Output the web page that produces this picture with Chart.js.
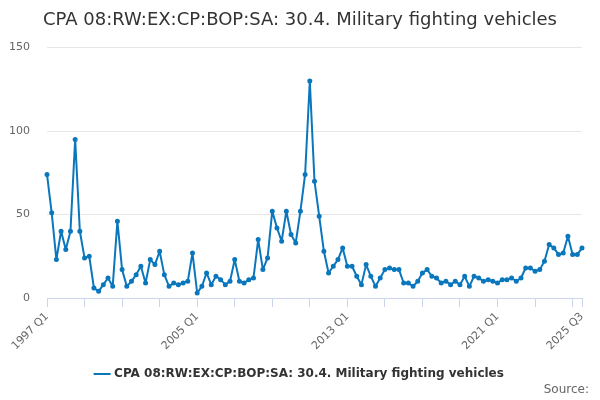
<!DOCTYPE html>
<html>
<head>
<meta charset="utf-8">
<script src="https://cdn.jsdelivr.net/npm/chart.js@4"></script>
<style>
  html, body { margin: 0; padding: 0; background: #fff; }
  #wrap { width: 600px; height: 400px; }
</style>
</head>
<body>
<div id="wrap"><canvas id="mfvChart" width="600" height="400"></canvas></div>
<script>
// quarters 1997 Q1 .. 2025 Q3
const years = [];
for (let y = 1997; y <= 2025; y++) years.push(y);
const quarters = [];
years.forEach(function (y) {
    for (let q = 1; q <= 4; q++) {
        if (y === 2025 && q > 3) break;
        quarters.push(y + ' Q' + q);
    }
});

// values
const values = [
    74, 51, 23, 40, 29, 40, 95, 40, 24, 25, 6, 4, 8, 12, 7, 46,
    17, 7, 10, 14, 19, 9, 23, 20, 28, 14, 7, 9, 8, 9, 10, 27,
    3, 7, 15, 8, 13, 11, 8, 10, 23, 10, 9, 11, 12, 35, 17, 24,
    52, 42, 34, 52, 38, 33, 52, 74, 130, 70, 49, 28, 15, 19, 23, 30,
    19, 19, 13, 8, 20, 13, 7, 12, 17, 18, 17, 17, 9, 9, 7, 10,
    15, 17, 13, 12, 9, 10, 8, 10, 8, 13, 7, 13, 12, 10, 11, 10,
    9, 11, 11, 12, 10, 12, 18, 18, 16, 17, 22, 32, 30, 26, 27, 37,
    26, 26, 30
];

const shownLabels = ['1997 Q1', '2005 Q1', '2013 Q1', '2021 Q1', '2025 Q3'];
const yTicks = [0, 50, 100, 150];
const seriesName = 'CPA 08:RW:EX:CP:BOP:SA: 30.4. Military fighting vehicles';
const sourceText = 'Source:';

const font = 'DejaVu Sans';
const lineColor = '#0a77bd';

// "Source:" credit in the bottom right corner
const sourceCredit = {
    id: 'sourceCredit',
    afterDraw: function (chart) {
        const c = chart.ctx;
        c.save();
        c.font = '12px "' + font + '"';
        c.fillStyle = '#666';
        c.textAlign = 'right';
        c.textBaseline = 'middle';
        c.fillText(sourceText, chart.width - 11, 390);
        c.restore();
    }
};

const ctx = document.getElementById('mfvChart').getContext('2d');
const mfvChart = new Chart(ctx, {
    type: 'line',
    data: {
        labels: quarters,
        datasets: [{
            label: seriesName,
            data: values,
            borderColor: lineColor,
            backgroundColor: lineColor,
            borderWidth: 2,
            borderJoinStyle: 'round',
            pointRadius: 1.5,
            pointHoverRadius: 3,
            tension: 0,
            fill: false
        }]
    },
    plugins: [sourceCredit],
    options: {
        responsive: false,
        animation: false,
        layout: { padding: { left: 0, right: 0, top: 4, bottom: 10 } },
        plugins: {
            title: {
                display: true,
                text: seriesName,
                color: '#333',
                font: { family: font, size: 18, weight: 'normal' },
                padding: { top: 6, bottom: 16 }
            },
            legend: {
                position: 'bottom',
                labels: {
                    color: '#333',
                    font: { family: font, size: 12, weight: 'bold' },
                    usePointStyle: true,
                    pointStyle: 'line',
                    boxWidth: 16,
                    padding: 4
                }
            },
            tooltip: { enabled: false }
        },
        scales: {
            x: {
                border: { color: '#ccd6eb' },
                grid: {
                    display: true,
                    drawOnChartArea: false,
                    drawTicks: true,
                    tickLength: 9,
                    color: '#ccd6eb'
                },
                afterFit: function (scale) { scale.height = 66; },
                ticks: {
                    autoSkip: false,
                    minRotation: 45,
                    maxRotation: 45,
                    color: '#666',
                    font: { family: font, size: 11 },
                    callback: function (val, i) {
                        const lab = quarters[i];
                        if (shownLabels.includes(lab)) return lab;
                        if (i % 8 === 0) return '';
                        return null;
                    }
                }
            },
            y: {
                min: yTicks[0],
                max: yTicks[yTicks.length - 1],
                border: { display: false },
                grid: { color: '#e6e6e6', drawTicks: false },
                afterFit: function (scale) { scale.width = 47; },
                afterBuildTicks: function (scale) {
                    scale.ticks = yTicks.map(function (v) { return { value: v }; });
                },
                ticks: {
                    padding: 17,
                    color: '#666',
                    font: { family: font, size: 11 }
                }
            },
            // empty right-hand axis, only reserves the right margin
            yPad: {
                position: 'right',
                display: true,
                border: { display: false },
                grid: { display: false },
                ticks: { display: false },
                afterFit: function (scale) { scale.width = 18; }
            }
        }
    }
});
</script>
</body>
</html>
